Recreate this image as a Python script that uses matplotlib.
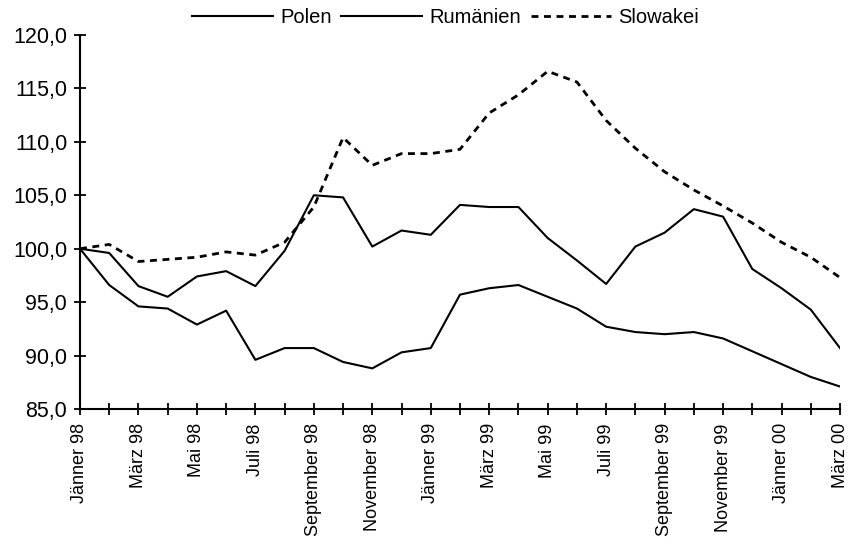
import matplotlib
matplotlib.use('Agg')
import matplotlib.pyplot as plt

plt.rcParams['font.family'] = ['Liberation Sans', 'DejaVu Sans']

# Monatswerte Jänner 98 bis März 00 (Index, Jänner 98 = 100)
months = ['Jänner 98', 'Februar 98', 'März 98', 'April 98', 'Mai 98', 'Juni 98',
          'Juli 98', 'August 98', 'September 98', 'Oktober 98', 'November 98',
          'Dezember 98', 'Jänner 99', 'Februar 99', 'März 99', 'April 99',
          'Mai 99', 'Juni 99', 'Juli 99', 'August 99', 'September 99',
          'Oktober 99', 'November 99', 'Dezember 99', 'Jänner 00',
          'Februar 00', 'März 00']

polen = [100.0, 99.6, 96.5, 95.5, 97.4, 97.9, 96.5, 99.8, 105.0, 104.8, 100.2,
         101.7, 101.3, 104.1, 103.9, 103.9, 101.0, 98.9, 96.7, 100.2, 101.5,
         103.7, 103.0, 98.1, 96.3, 94.3, 90.7]

rumaenien = [100.0, 96.6, 94.6, 94.4, 92.9, 94.2, 89.6, 90.7, 90.7, 89.4, 88.8,
             90.3, 90.7, 95.7, 96.3, 96.6, 95.5, 94.4, 92.7, 92.2, 92.0,
             92.2, 91.6, 90.4, 89.2, 88.0, 87.1]

slowakei = [100.0, 100.4, 98.8, 99.0, 99.2, 99.7, 99.4, 100.6, 103.9, 110.4, 107.8,
            108.9, 108.9, 109.3, 112.7, 114.4, 116.6, 115.6, 112.0, 109.4, 107.2,
            105.5, 104.0, 102.4, 100.6, 99.2, 97.3]

y_ticks = [85, 90, 95, 100, 105, 110, 115, 120]
y_labels = ['85,0', '90,0', '95,0', '100,0', '105,0', '110,0', '115,0', '120,0']

x = list(range(len(months)))

fig = plt.figure(figsize=(8.49, 5.44), dpi=100)
ax = fig.add_axes([0.0942, 0.2482, 0.8952, 0.6875])

ax.plot(x, polen, color='black', lw=1.5, label='Polen')
ax.plot(x, rumaenien, color='black', lw=1.5, label='Rumänien')
ax.plot(x, slowakei, color='black', lw=2.0, dashes=(2.5, 2), label='Slowakei')

ax.set_xlim(0, len(months) - 1)
ax.set_ylim(85, 120)

ax.set_xticks(x)
ax.set_xticklabels([m if i % 2 == 0 else '' for i, m in enumerate(months)],
                   rotation=90, fontsize=13)
ax.set_yticks(y_ticks)
ax.set_yticklabels(y_labels, fontsize=15.5)

ax.tick_params(axis='both', direction='inout', length=8.5, width=1.3, color='black')
ax.tick_params(axis='x', pad=6)
ax.tick_params(axis='y', pad=5)

ax.spines['top'].set_visible(False)
ax.spines['right'].set_visible(False)
for s in ['left', 'bottom']:
    ax.spines[s].set_linewidth(1.5)

fig.legend(loc='center', bbox_to_anchor=(0.525, 0.968), ncol=3, frameon=False,
           fontsize=14.5, handlelength=4, handletextpad=0.35, columnspacing=0.5,
           borderaxespad=0)

fig.savefig('out.png', dpi=100)
